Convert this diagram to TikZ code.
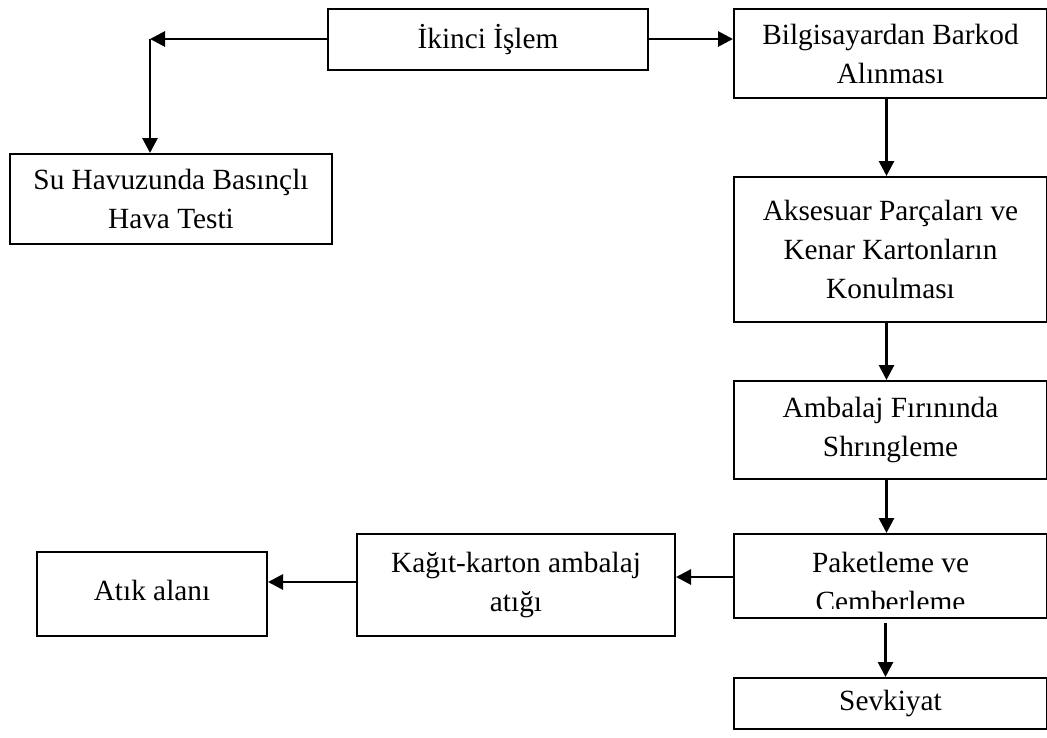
\documentclass[tikz,border=0pt]{standalone}
\usepackage{fontspec}
\setmainfont{Liberation Serif}
\usetikzlibrary{arrows.meta}
\newcommand{\boxfont}{\fontsize{29.3bp}{39bp}\selectfont}
\tikzset{
  stepbox/.style={draw, line width=2bp, inner sep=0pt, align=center,
    font=\boxfont, anchor=north west},
  flow/.style={line width=2.8bp, -{Triangle[length=15bp,width=15bp]}}
}
\begin{document}
\begin{tikzpicture}[x=1bp,y=-1bp]
\useasboundingbox[fill=white] (0,0) rectangle (1047,738);

% process boxes
\node[stepbox, minimum width=320bp, minimum height=61bp] (ik) at (327,8) {İkinci İşlem};
\node[stepbox, minimum width=313bp, minimum height=89bp] (bb) at (733,8) {Bilgisayardan Barkod\\Alınması};
\node[stepbox, minimum width=322bp, minimum height=90bp] (su) at (9,153) {Su Havuzunda Basınçlı\\Hava Testi};
\node[stepbox, minimum width=313bp, minimum height=145bp] (ak) at (733,176) {Aksesuar Parçaları ve\\Kenar Kartonların\\Konulması};
\node[stepbox, minimum width=313bp, minimum height=98bp] (am) at (733,380) {Ambalaj Fırınında\\Shrıngleme};
% the second line runs past the lower border and is cut off there
\node[stepbox, minimum width=313bp, minimum height=84bp,
  path picture={
    \clip (path picture bounding box.north west) rectangle
      ([yshift=10bp]path picture bounding box.south east);
    \node[font=\boxfont, align=center, anchor=base]
      at ([yshift=-77bp]path picture bounding box.north) {Paketleme ve\\Çemberleme};}] (pk) at (733,533) {};
\node[stepbox, minimum width=318bp, minimum height=102bp] (kg) at (356,533) {Kağıt-karton ambalaj\\atığı};
\node[stepbox, minimum width=230bp, minimum height=84bp] (at) at (36,551) {\raisebox{8bp}{Atık alanı}};
\node[stepbox, minimum width=313bp, minimum height=51bp] (sv) at (733,677) {Sevkiyat};

% connectors
\coordinate (turn) at (150,39);
\draw[flow] (ik.west |- turn) -- (turn);
\draw[flow] (turn) -- (turn |- su.north);
\draw[flow] (ik.east |- turn) -- (turn -| bb.west);
\draw[flow] ([xshift=-4bp]bb.south) -- ([xshift=-4bp]ak.north);
\draw[flow] ([xshift=-4bp]ak.south) -- ([xshift=-4bp]am.north);
\draw[flow] ([xshift=-4bp]am.south) -- ([xshift=-4bp]pk.north);
\draw[flow] ([xshift=-5bp,yshift=-4bp]pk.south) -- ([xshift=-5bp]sv.north);
\draw[flow] ([yshift=-1bp]pk.west) -- ([yshift=-1bp]pk.west -| kg.east);
\draw[flow] ([yshift=3bp]kg.west) -- ([yshift=3bp]kg.west -| at.east);
\end{tikzpicture}
\end{document}
